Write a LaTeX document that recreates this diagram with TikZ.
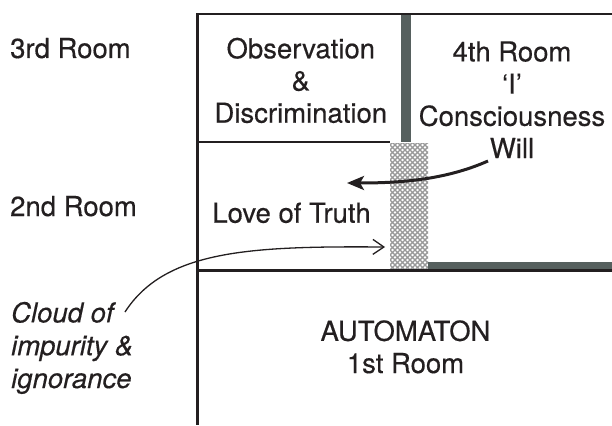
\documentclass[tikz,border=0pt]{standalone}
\usepackage{fontspec}
\setmainfont{TeX Gyre Heros}[FakeBold=0.4]
\usetikzlibrary{arrows.meta,patterns}
\definecolor{ink}{RGB}{35,31,32}
\definecolor{wallgray}{RGB}{86,96,94}
\pgfdeclarepatternformonly{diaghatch}{\pgfqpoint{-1pt}{-1pt}}{\pgfqpoint{6pt}{6pt}}{\pgfqpoint{5pt}{5pt}}{%
  \pgfsetlinewidth{1.2pt}%
  \pgfpathmoveto{\pgfqpoint{-1pt}{-1pt}}\pgfpathlineto{\pgfqpoint{6pt}{6pt}}%
  \pgfpathmoveto{\pgfqpoint{-1pt}{6pt}}\pgfpathlineto{\pgfqpoint{6pt}{-1pt}}%
  \pgfusepath{stroke}}
\begin{document}
\begin{tikzpicture}[x=1pt,y=-1pt,
  frame/.style={draw=ink,line width=2.5pt},
  wall/.style={fill=wallgray,draw=none},
  cloudfill/.style={fill=white,postaction={pattern=diaghatch,pattern color=gray!80}},
  lbl/.style={inner sep=0pt,text=ink,font=\fontsize{27.5}{32.2}\selectfont},
  ilbl/.style={inner sep=0pt,text=ink,font=\fontsize{27.5}{32.8}\selectfont\itshape},
  willarrow/.style={draw=ink,line width=3pt,-{Stealth[length=17pt,width=14pt,inset=4pt]}},
  cloudarrow/.style={draw=ink,line width=1.3pt,-{Straight Barb[length=11pt,width=15pt]}}]
\useasboundingbox (0,0) rectangle (612,425);
% hatch (cloud) column
\fill[cloudfill] (390,143) rectangle (428,270);
% walls
\fill[wall] (400.5,15) rectangle (410.5,142);
\fill[wall] (428,261.5) rectangle (612,269.5);
% frame lines
\draw[frame] (196.25,14) -- (612,14);
\draw[frame] (197.5,14) -- (197.5,425);
\draw[frame] (197.5,142) -- (390,142);
\draw[frame] (197.5,270.3) -- (612,270.3);
% labels
\node[lbl,anchor=base west] (room3) at (10,58) {3rd Room};
\node[lbl,anchor=base west] (room2) at (10,216) {2nd Room};
\node[lbl,anchor=base,align=center] (obs) at (300.8,122.7) {Observation\\\&\\Discrimination};
\node[lbl,anchor=base,align=center] (fourth) at (512,158) {4th Room\\‘I’\\Consciousness\\Will};
\node[lbl,anchor=base] (love) at (291.5,222.7) {Love of Truth};
\node[lbl,anchor=base,align=center] (auto) at (405.5,373) {AUTOMATON\\1st Room};
\node[ilbl,anchor=base west,align=left] (cloud) at (11,388) {Cloud of\\impurity \&\\ignorance};
% arrows
\coordinate (willstart) at (488,161);
\coordinate (willend) at (347,183);
\coordinate (cloudstart) at (125,312);
\coordinate (cloudend) at (385,247);
\draw[willarrow] (willstart) .. controls (445,180) and (400,183) .. (willend);
\draw[cloudarrow] (cloudstart) .. controls (165,250) and (250,246) .. (cloudend);
\end{tikzpicture}
\end{document}
